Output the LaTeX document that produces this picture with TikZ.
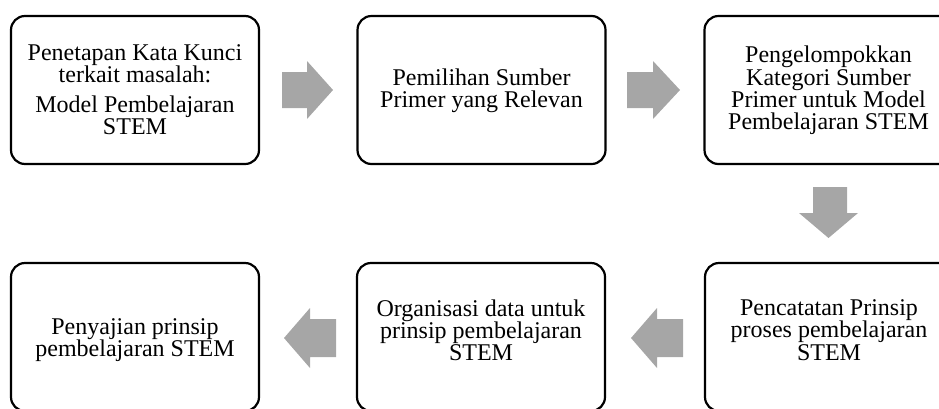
\documentclass[tikz,border=0pt]{standalone}
\usepackage{fontspec}
\setmainfont{Liberation Serif}
\definecolor{arrowgray}{RGB}{166,166,166}
\begin{document}
\begin{tikzpicture}[x=1pt,y=-1pt,
  box/.style={draw=black, line width=2.2pt, rounded corners=14pt,
    minimum width=248pt, minimum height=148pt, inner sep=0pt},
  boxtext/.style={align=center, font=\fontsize{24}{22.2}\selectfont, inner sep=0pt},
  blockarrow/.style={fill=arrowgray, draw=none}]
\useasboundingbox (0,0) rectangle (939,408);
\clip (0,0) rectangle (939,408);
% boxes
\node[box] (b1) at (135,90) {};
\node[box] (b2) at (481.5,90) {};
\node[box] (b3) at (828.5,90) {};
\node[box] (b4) at (135,337) {};
\node[box] (b5) at (481,337) {};
\node[box] (b6) at (829,337) {};
% texts
\node[boxtext] (t1) at (135,89.3) {Penetapan Kata Kunci\\terkait masalah:\\[7.6pt]Model Pembelajaran\\STEM};
\node[boxtext] (t2) at (481.5,90.5) {Pemilihan Sumber\\Primer yang Relevan};
\node[boxtext] (t3) at (828.5,90.4) {Pengelompokkan\\Kategori Sumber\\Primer untuk Model\\Pembelajaran STEM};
\node[boxtext] (t6) at (829,330) {Pencatatan Prinsip\\proses pembelajaran\\STEM};
\node[boxtext] (t5) at (481,330) {Organisasi data untuk\\prinsip pembelajaran\\STEM};
\node[boxtext] (t4) at (135,340.5) {Penyajian prinsip\\pembelajaran STEM};
% block arrows
\fill[blockarrow] (282,72) -- (307,72) -- (307,61) -- (333,90) -- (307,119) -- (307,108) -- (282,108) -- cycle;
\fill[blockarrow] (627,72) -- (653,72) -- (653,61) -- (680,90) -- (653,119) -- (653,108) -- (627,108) -- cycle;
\fill[blockarrow] (813,187) -- (847,187) -- (847,213) -- (858,213) -- (828.5,238) -- (799,213) -- (813,213) -- cycle;
\fill[blockarrow] (683,319) -- (657,319) -- (657,308) -- (631,338) -- (657,368) -- (657,357) -- (683,357) -- cycle;
\fill[blockarrow] (336,319) -- (310,319) -- (310,308) -- (284,338) -- (310,368) -- (310,357) -- (336,357) -- cycle;
\end{tikzpicture}
\end{document}
